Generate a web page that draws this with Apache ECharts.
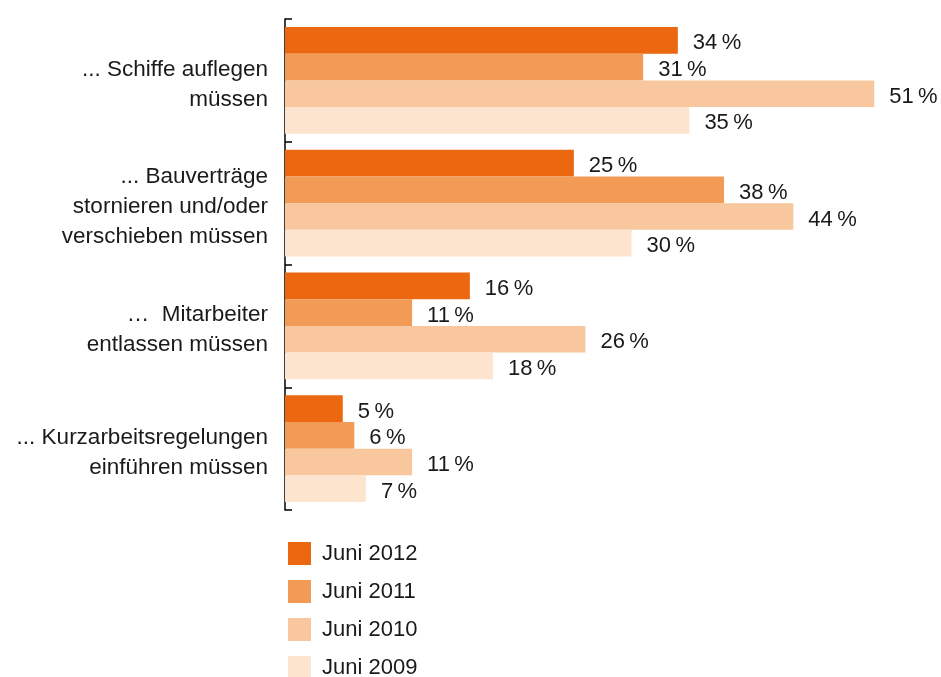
<!DOCTYPE html>
<html>
<head>
<meta charset="utf-8">
<script src="https://cdn.jsdelivr.net/npm/echarts@6/dist/echarts.min.js"></script>
<style>
    html, body { margin: 0; padding: 0; background: #fff; }
    #chart { width: 941px; height: 677px; }
</style>
</head>
<body>
<div id="chart"></div>
<script>
// Kategorien (von oben nach unten)
let categories = [
    '... Schiffe auflegen\nmüssen',
    '... Bauverträge\nstornieren und/oder\nverschieben müssen',
    '…  Mitarbeiter\nentlassen müssen',
    '... Kurzarbeitsregelungen\neinführen müssen'
];
let seriesNames = ['Juni 2012', 'Juni 2011', 'Juni 2010', 'Juni 2009'];
let juni2012 = [34, 25, 16, 5];
let juni2011 = [31, 38, 11, 6];
let juni2010 = [51, 44, 26, 11];
let juni2009 = [35, 30, 18, 7];
let colors = ['#EB6710', '#F29B57', '#F8C79D', '#FDE4CF'];

let values = [juni2012, juni2011, juni2010, juni2009];
let fontFamily = '"Liberation Sans", Arial, Helvetica, sans-serif';

let series = seriesNames.map((name, i) => ({
    name: name,
    type: 'bar',
    data: values[i],
    barGap: '0%',
    barCategoryGap: '13%',
    itemStyle: { color: colors[i] },
    label: {
        show: true,
        position: 'right',
        distance: 15,
        offset: [0, 3],
        color: '#1a1a1a',
        fontSize: 22,
        fontFamily: fontFamily,
        formatter: p => p.value + '\u2009%'
    },
    emphasis: { disabled: true }
}));

let labelStyle = { fontSize: 22.5, lineHeight: 30, color: '#1a1a1a', fontFamily: fontFamily, align: 'right' };

let myChart = echarts.init(document.getElementById('chart'));
let option = {
    animation: false,
    color: colors,
    grid: { left: 285, top: 19, width: 647, height: 491 },
    legend: {
        data: seriesNames,
        orient: 'vertical',
        left: 283,
        top: 537,
        height: 200,
        icon: 'rect',
        itemWidth: 23,
        itemHeight: 23,
        itemGap: 15,
        textStyle: { fontSize: 22, color: '#1a1a1a', fontFamily: fontFamily, padding: [0, 0, 0, 6] }
    },
    xAxis: {
        type: 'value',
        min: 0,
        max: 56,
        show: false,
        splitLine: { show: false }
    },
    yAxis: {
        type: 'category',
        data: categories,
        inverse: true,
        axisLine: { show: true, lineStyle: { color: '#000', width: 1.5 } },
        axisTick: { show: true, inside: true, length: 7, lineStyle: { color: '#000', width: 1.5 } },
        axisLabel: {
            margin: 17,
            fontSize: 22.5,
            lineHeight: 30,
            color: '#1a1a1a',
            fontFamily: fontFamily,
            align: 'right',
            // kleine leere Zeile oben schiebt den Block ein paar Pixel nach unten
            formatter: v => '{s| }\n' + v.split('\n').map(s => '{n|' + s + '}').join('\n'),
            rich: {
                s: { fontSize: 4, lineHeight: 8 },
                n: labelStyle
            }
        }
    },
    series: series
};
myChart.setOption(option);
</script>
</body>
</html>
